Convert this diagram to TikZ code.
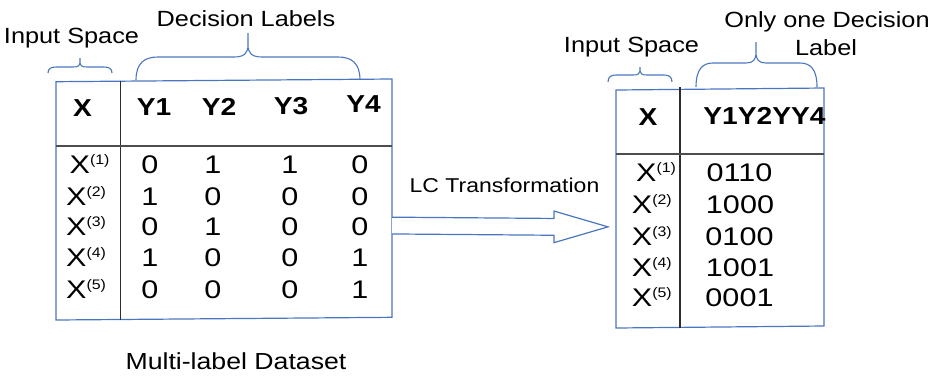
\documentclass[tikz,border=0pt]{standalone}
\usepackage{fontspec}
\usepackage{graphicx}
\setmainfont{Liberation Sans}[FakeStretch=1.15]
\newfontfamily\datafont{Liberation Sans}[FakeStretch=1.2]
\usetikzlibrary{calc}

\definecolor{frameblue}{HTML}{4A76C0}
\definecolor{rulegray}{HTML}{2E2E2E}

\tikzset{
  frame/.style={draw=frameblue, line width=1.2pt},
  bracepath/.style={draw=frameblue, line width=1.1pt},
  divider/.style={draw=rulegray, line width=1.1pt},
  toplabel/.style={font=\fontsize{22}{26}\selectfont, inner sep=0pt, anchor=base},
  headcell/.style={font=\fontsize{24.5}{28}\selectfont\bfseries, inner sep=0pt, anchor=base},
  cell/.style={font=\datafont\fontsize{25.5}{28}\selectfont, inner sep=0pt, anchor=base},
  rowlabel/.style={font=\datafont\fontsize{25.5}{28}\selectfont, inner sep=0pt, anchor=base west},
}

% X with a parenthesised superscript index
\newcommand\xrow[1]{X\raisebox{9pt}{\rmfamily\fontsize{13.8}{14}\selectfont(#1)}}

% curly brace opening downwards:
% #1 left x, #2 right x, #3 tip x, #4 end y, #5 flat y, #6 tip y, #7 end curl width, #8 tip curl width
\newcommand\downbrace[8]{%
  \draw[bracepath]
    (#1,#4) .. controls (#1,{#5+0.25*(#4-#5)}) and ({#1+0.4*#7},#5) .. ({#1+#7},#5)
    -- ({#3-#8},#5) .. controls ({#3-0.3*#8},#5) and (#3,{#5-0.15*(#5-#6)}) .. (#3,{#5-0.5*(#5-#6)})
    -- (#3,#6) -- (#3,{#5-0.5*(#5-#6)})
    .. controls (#3,{#5-0.15*(#5-#6)}) and ({#3+0.3*#8},#5) .. ({#3+#8},#5)
    -- ({#2-#7},#5) .. controls ({#2-0.4*#7},#5) and (#2,{#5+0.25*(#4-#5)}) .. (#2,#4);
}

\begin{document}
\begin{tikzpicture}[x=1pt,y=-1pt]
\useasboundingbox (0,0) rectangle (939,376);

% ---------- multi-label table ----------
\coordinate (ltl) at (56,81.7);
\coordinate (ltr) at (392,79);
\coordinate (lbr) at (392,317.3);
\coordinate (lbl) at (56,320);
\draw[frame] (ltl) -- (ltr) -- (lbr) -- (lbl) -- cycle;
\coordinate (ldivtop) at (120.7,80.5);
\coordinate (ldivbot) at (120.7,320);
\draw[divider] (ldivtop) -- (ldivbot);
\coordinate (lrulel) at (56,146);
\coordinate (lruler) at (392,146);
\draw[divider, draw=rulegray!85] (lrulel) -- (lruler);

\node[headcell] (lhx)  at (82.5,116.7) {X};
\node[headcell] (lhy1) at (154,115.7) {Y1};
\node[headcell] (lhy2) at (219,115) {Y2};
\node[headcell] (lhy3) at (291,114.3) {Y3};
\node[headcell] (lhy4) at (363.5,112.3) {Y4};

\node[rowlabel] (lx1) at (69.5,173.3) {\xrow{1}};
\node[rowlabel] (lx2) at (66,205) {\xrow{2}};
\node[rowlabel] (lx3) at (66,235.5) {\xrow{3}};
\node[rowlabel] (lx4) at (66,266.7) {\xrow{4}};
\node[rowlabel] (lx5) at (66,298.3) {\xrow{5}};

\foreach \r/\y/\a/\b/\c/\d in {1/173.3/0/1/1/0, 2/205/1/0/0/0, 3/235.5/0/1/0/0, 4/266.7/1/0/0/1, 5/298.3/0/0/0/1}{
  \node[cell] (lv\r a) at (150,\y) {\a};
  \node[cell] (lv\r b) at (212.8,\y) {\b};
  \node[cell] (lv\r c) at (290,\y) {\c};
  \node[cell] (lv\r d) at (360,\y) {\d};
}

\node[toplabel] (linput) at (71.5,43.3) {Input Space};
\node[toplabel] (ldec) at (246,26.7) {Decision Labels};
\downbrace{48}{112}{80}{73}{67}{58}{8}{7}
\downbrace{136}{360}{248}{80}{57}{33}{22}{14}

\node[toplabel, font=\fontsize{23.2}{26}\selectfont] (lcaption) at (236,369) {Multi-label Dataset};

% ---------- label-combination table ----------
\coordinate (rtl) at (616,90);
\coordinate (rtr) at (824,88);
\coordinate (rbr) at (824,326);
\coordinate (rbl) at (616,328);
\draw[frame] (rtl) -- (rtr) -- (rbr) -- (rbl) -- cycle;
\coordinate (rdivtop) at (680,87);
\coordinate (rdivbot) at (680,328);
\draw[divider] (rdivtop) -- (rdivbot);
\coordinate (rrulel) at (616,154);
\coordinate (rruler) at (824,154);
\draw[divider, draw=rulegray!85] (rrulel) -- (rruler);

\node[headcell] (rhx) at (648,125) {X};
\node[headcell] (rhy) at (764.5,124.5) {Y1Y2YY4};

\node[rowlabel] (rx1) at (636,181.7) {\xrow{1}};
\node[rowlabel] (rx2) at (631.7,213.3) {\xrow{2}};
\node[rowlabel] (rx3) at (631.7,245) {\xrow{3}};
\node[rowlabel] (rx4) at (631.7,276.7) {\xrow{4}};
\node[rowlabel] (rx5) at (631.7,306.7) {\xrow{5}};

\node[cell] (rv1) at (739.5,181.7) {0110};
\node[cell] (rv2) at (740,213.3) {1000};
\node[cell] (rv3) at (739.5,245) {0100};
\node[cell] (rv4) at (740,276.7) {1001};
\node[cell] (rv5) at (739.5,306.7) {0001};

\node[toplabel] (rinput) at (631.5,52) {Input Space};
\node[toplabel] (rdec1) at (827,27) {Only one Decision};
\node[toplabel] (rdec2) at (826,55) {Label};
\downbrace{608}{672}{640}{82}{75}{67}{8}{7}
\downbrace{696}{817}{756}{87}{63}{42}{17}{10}

% ---------- transformation arrow ----------
\coordinate (arrowfrom) at ($(ltr)!0.615!(lbr)$);
\coordinate (arrowtip) at ($(rtl)!0.575!(rbl)+(-8,0)$);
\draw[frame, fill=white]
  ($(arrowfrom)+(0,-8.4)$) -- ($(arrowtip)+(-54,-8.4)$) -- ($(arrowtip)+(-54,-15.8)$)
  -- (arrowtip)
  -- ($(arrowtip)+(-54,15.8)$) -- ($(arrowtip)+(-54,8.4)$) -- ($(arrowfrom)+(0,8.4)$);
\node[toplabel, font=\fontsize{20}{24}\selectfont] (lclabel) at (504.5,192.3) {LC Transformation};

\end{tikzpicture}
\end{document}
